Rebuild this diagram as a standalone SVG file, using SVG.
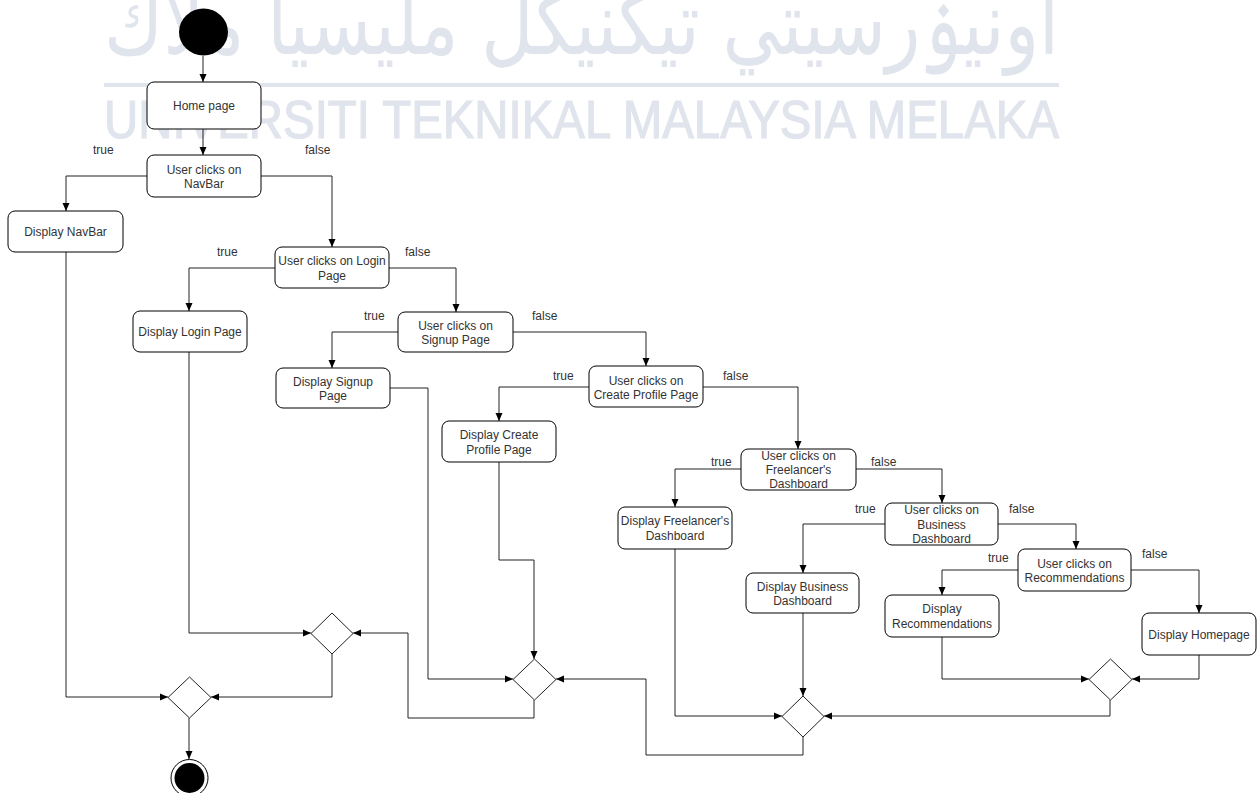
<svg xmlns="http://www.w3.org/2000/svg" width="1258" height="793" viewBox="0 0 1258 793">
  <style>
    .wm { fill: #e0e4ec; }
    .wmt { fill: #e0e4ec; stroke: #e0e4ec; stroke-width: 1.2; }
    .box { fill: #ffffff; stroke: #000000; stroke-width: 1; }
    .dia { fill: #ffffff; stroke: #222222; stroke-width: 1; }
    .lbl { font-family: "Liberation Sans", Arial, sans-serif; font-size: 12px; fill: #333333; text-anchor: middle; }
    .ed { font-family: "Liberation Sans", Arial, sans-serif; font-size: 12px; fill: #333333; }
    .edge { fill: none; stroke: #222222; stroke-width: 1; }
  </style>
  <defs>
    <marker id="arr" markerUnits="userSpaceOnUse" markerWidth="10" markerHeight="10" viewBox="0 0 10 10" refX="9" refY="5" orient="auto">
      <path d="M1,1.5 L9,5 L1,8.5 Z" fill="#000000"/>
    </marker>
  </defs>

  <!-- background -->
  <rect width="1258" height="793" fill="#ffffff"/>

  <!-- university watermark -->
  <g id="watermark">
    <text class="wm" x="104" y="54" font-family="DejaVu Sans, sans-serif" font-size="88" textLength="955" lengthAdjust="spacingAndGlyphs">اونيۏرسيتي تيكنيكل مليسيا ملاك</text>
    <rect class="wm" x="104" y="83" width="955" height="4"/>
    <text class="wmt" x="104" y="138" font-family="Liberation Sans, Arial, sans-serif" font-size="53" textLength="955" lengthAdjust="spacingAndGlyphs">UNIVERSITI TEKNIKAL MALAYSIA MELAKA</text>
  </g>

  <!-- connectors -->
  <g id="connectors">
    <path class="edge" d="M203,56 V82" marker-end="url(#arr)"/>
    <path class="edge" d="M203,129 V155" marker-end="url(#arr)"/>
    <!-- NavBar decision -->
    <path class="edge" d="M147,176 H66 V211" marker-end="url(#arr)"/>
    <path class="edge" d="M261,176 H332 V247" marker-end="url(#arr)"/>
    <!-- Login decision -->
    <path class="edge" d="M275,268 H189 V311" marker-end="url(#arr)"/>
    <path class="edge" d="M389,268 H456 V312" marker-end="url(#arr)"/>
    <!-- Signup decision -->
    <path class="edge" d="M398,332 H332 V368" marker-end="url(#arr)"/>
    <path class="edge" d="M513,332 H646 V366" marker-end="url(#arr)"/>
    <!-- Create Profile decision -->
    <path class="edge" d="M589,387 H499 V421" marker-end="url(#arr)"/>
    <path class="edge" d="M703,387 H798 V449" marker-end="url(#arr)"/>
    <!-- Freelancer decision -->
    <path class="edge" d="M741,469 H675 V507" marker-end="url(#arr)"/>
    <path class="edge" d="M856,469 H942 V503" marker-end="url(#arr)"/>
    <!-- Business decision -->
    <path class="edge" d="M885,524 H803 V573" marker-end="url(#arr)"/>
    <path class="edge" d="M998,524 H1076 V549" marker-end="url(#arr)"/>
    <!-- Recommendations decision -->
    <path class="edge" d="M1018,570 H942 V595" marker-end="url(#arr)"/>
    <path class="edge" d="M1131,570 H1199 V613" marker-end="url(#arr)"/>

    <!-- merge nodes -->
    <path class="edge" d="M942,637 V679 H1089" marker-end="url(#arr)"/>
    <path class="edge" d="M1199,655 V679 H1132" marker-end="url(#arr)"/>
    <path class="edge" d="M1110,700 V716 H824" marker-end="url(#arr)"/>
    <path class="edge" d="M803,613 V696" marker-end="url(#arr)"/>
    <path class="edge" d="M675,549 V716 H782" marker-end="url(#arr)"/>
    <path class="edge" d="M803,737 V755 H646 V679 H556" marker-end="url(#arr)"/>
    <path class="edge" d="M499,462 V560 H534 V659" marker-end="url(#arr)"/>
    <path class="edge" d="M390,388 H428 V679 H513" marker-end="url(#arr)"/>
    <path class="edge" d="M534,700 V718 H408 V633 H353" marker-end="url(#arr)"/>
    <path class="edge" d="M189,352 V633 H311" marker-end="url(#arr)"/>
    <path class="edge" d="M332,654 V697 H211" marker-end="url(#arr)"/>
    <path class="edge" d="M66,252 V697 H168" marker-end="url(#arr)"/>
    <path class="edge" d="M189,718 V759" marker-end="url(#arr)"/>

    <!-- branch labels -->
    <text class="ed" x="93" y="154">true</text>
    <text class="ed" x="305" y="154">false</text>
    <text class="ed" x="217" y="256">true</text>
    <text class="ed" x="405" y="256">false</text>
    <text class="ed" x="364" y="320">true</text>
    <text class="ed" x="532" y="320">false</text>
    <text class="ed" x="553" y="380">true</text>
    <text class="ed" x="723" y="380">false</text>
    <text class="ed" x="711" y="466">true</text>
    <text class="ed" x="871" y="466">false</text>
    <text class="ed" x="855" y="513">true</text>
    <text class="ed" x="1009" y="513">false</text>
    <text class="ed" x="988" y="562">true</text>
    <text class="ed" x="1142" y="558">false</text>
  </g>

  <!-- start and end -->
  <g id="start">
    <ellipse cx="203.5" cy="32" rx="24.5" ry="23.5" fill="#000000"/>
  </g>
  <g id="end">
    <circle cx="189.5" cy="778" r="18.5" fill="#ffffff" stroke="#000000" stroke-width="1"/>
    <circle cx="189.5" cy="778" r="15" fill="#000000"/>
  </g>

  <!-- activity nodes -->
  <g id="home-page">
    <rect class="box" x="147" y="82" width="114" height="47" rx="7"/>
    <text class="lbl" x="204" y="110">Home page</text>
  </g>
  <g id="q-navbar">
    <rect class="box" x="147" y="155" width="114" height="42" rx="7"/>
    <text class="lbl" x="204" y="173.5">User clicks on</text>
    <text class="lbl" x="204" y="188">NavBar</text>
  </g>
  <g id="display-navbar">
    <rect class="box" x="8" y="211" width="115" height="41" rx="7"/>
    <text class="lbl" x="65.5" y="236">Display NavBar</text>
  </g>
  <g id="q-login">
    <rect class="box" x="275" y="247" width="114" height="41" rx="7"/>
    <text class="lbl" x="332" y="265">User clicks on Login</text>
    <text class="lbl" x="332" y="279.5">Page</text>
  </g>
  <g id="display-login">
    <rect class="box" x="133" y="311" width="114" height="41" rx="7"/>
    <text class="lbl" x="190" y="336">Display Login Page</text>
  </g>
  <g id="q-signup">
    <rect class="box" x="398" y="312" width="115" height="40" rx="7"/>
    <text class="lbl" x="455.5" y="329.5">User clicks on</text>
    <text class="lbl" x="455.5" y="344">Signup Page</text>
  </g>
  <g id="display-signup">
    <rect class="box" x="276" y="368" width="114" height="40" rx="7"/>
    <text class="lbl" x="333" y="385.5">Display Signup</text>
    <text class="lbl" x="333" y="400">Page</text>
  </g>
  <g id="q-create-profile">
    <rect class="box" x="589" y="366" width="114" height="41" rx="7"/>
    <text class="lbl" x="646" y="384.5">User clicks on</text>
    <text class="lbl" x="646" y="398.5">Create Profile Page</text>
  </g>
  <g id="display-create-profile">
    <rect class="box" x="442" y="421" width="114" height="41" rx="7"/>
    <text class="lbl" x="499" y="439">Display Create</text>
    <text class="lbl" x="499" y="453.5">Profile Page</text>
  </g>
  <g id="q-freelancer">
    <rect class="box" x="741" y="449" width="115" height="41" rx="7"/>
    <text class="lbl" x="798.5" y="459.5">User clicks on</text>
    <text class="lbl" x="798.5" y="473.5">Freelancer's</text>
    <text class="lbl" x="798.5" y="487.5">Dashboard</text>
  </g>
  <g id="display-freelancer">
    <rect class="box" x="618" y="507" width="114" height="42" rx="7"/>
    <text class="lbl" x="675" y="525">Display Freelancer's</text>
    <text class="lbl" x="675" y="540">Dashboard</text>
  </g>
  <g id="q-business">
    <rect class="box" x="885" y="503" width="113" height="42" rx="7"/>
    <text class="lbl" x="941.5" y="514">User clicks on</text>
    <text class="lbl" x="941.5" y="528.5">Business</text>
    <text class="lbl" x="941.5" y="543">Dashboard</text>
  </g>
  <g id="display-business">
    <rect class="box" x="746" y="573" width="113" height="40" rx="7"/>
    <text class="lbl" x="802.5" y="590.5">Display Business</text>
    <text class="lbl" x="802.5" y="605">Dashboard</text>
  </g>
  <g id="q-recommendations">
    <rect class="box" x="1018" y="549" width="113" height="42" rx="7"/>
    <text class="lbl" x="1074.5" y="567.5">User clicks on</text>
    <text class="lbl" x="1074.5" y="582">Recommendations</text>
  </g>
  <g id="display-recommendations">
    <rect class="box" x="885" y="595" width="114" height="42" rx="7"/>
    <text class="lbl" x="942" y="613">Display</text>
    <text class="lbl" x="942" y="628">Recommendations</text>
  </g>
  <g id="display-homepage">
    <rect class="box" x="1142" y="613" width="114" height="42" rx="7"/>
    <text class="lbl" x="1199" y="638.5">Display Homepage</text>
  </g>

  <!-- merge diamonds -->
  <g id="merge-final">
    <polygon class="dia" points="189.5,677 211,697.5 189.5,718 168,697.5"/>
  </g>
  <g id="merge-login">
    <polygon class="dia" points="332,613 353,633.5 332,654 311,633.5"/>
  </g>
  <g id="merge-profile">
    <polygon class="dia" points="534.5,659 556,679.5 534.5,700 513,679.5"/>
  </g>
  <g id="merge-dashboards">
    <polygon class="dia" points="803,696 824,716.5 803,737 782,716.5"/>
  </g>
  <g id="merge-recommendations">
    <polygon class="dia" points="1110.5,659 1132,679.5 1110.5,700 1089,679.5"/>
  </g>
</svg>
